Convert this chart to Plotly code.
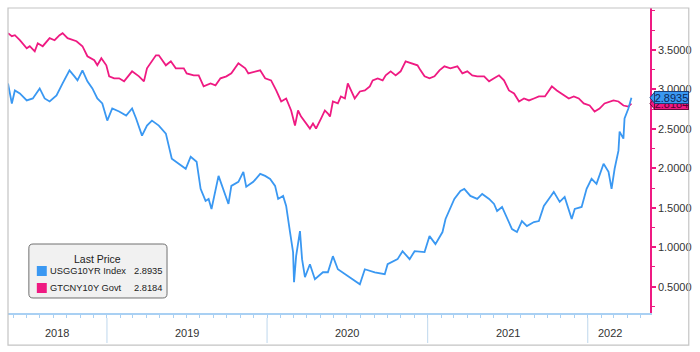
import numpy as np
import pandas as pd
import plotly.graph_objects as go

# ---------------- data ----------------
# decimal-year time stamps and yields (%)
cn_year = [2018.382, 2018.406, 2018.425, 2018.456, 2018.499, 2018.518, 2018.549, 2018.568, 2018.599, 2018.642,
           2018.673, 2018.704, 2018.723, 2018.754, 2018.810, 2018.847, 2018.878, 2018.921, 2018.940, 2018.965,
           2018.996, 2019.014, 2019.045, 2019.076, 2019.107, 2019.138, 2019.157, 2019.200, 2019.231, 2019.250,
           2019.306, 2019.324, 2019.368, 2019.399, 2019.430, 2019.480, 2019.498, 2019.542, 2019.573, 2019.604,
           2019.647, 2019.678, 2019.709, 2019.746, 2019.777, 2019.821, 2019.864, 2019.883, 2019.926, 2019.957,
           2019.988, 2020.025, 2020.057, 2020.088, 2020.119, 2020.150, 2020.174, 2020.193, 2020.212, 2020.243,
           2020.267, 2020.286, 2020.305, 2020.336, 2020.360, 2020.379, 2020.392, 2020.410, 2020.441, 2020.460,
           2020.485, 2020.503, 2020.522, 2020.546, 2020.578, 2020.609, 2020.640, 2020.658, 2020.689, 2020.720,
           2020.739, 2020.770, 2020.801, 2020.832, 2020.863, 2020.894, 2020.937, 2020.956, 2020.981, 2021.012,
           2021.043, 2021.074, 2021.105, 2021.142, 2021.186, 2021.217, 2021.248, 2021.279, 2021.310, 2021.353,
           2021.384, 2021.415, 2021.446, 2021.477, 2021.508, 2021.540, 2021.571, 2021.602, 2021.633, 2021.664,
           2021.695, 2021.733, 2021.776, 2021.807, 2021.851, 2021.882, 2021.913, 2021.944, 2021.975, 2022.012,
           2022.043, 2022.074, 2022.105, 2022.136, 2022.161, 2022.192, 2022.223, 2022.254, 2022.273]
cn_val = [3.711, 3.673, 3.686, 3.622, 3.520, 3.546, 3.482, 3.584, 3.546, 3.648,
          3.622, 3.686, 3.711, 3.648, 3.609, 3.546, 3.419, 3.368, 3.304, 3.393,
          3.304, 3.164, 3.139, 3.139, 3.101, 3.177, 3.228, 3.164, 3.101, 3.266,
          3.431, 3.431, 3.304, 3.355, 3.266, 3.266, 3.202, 3.177, 3.177, 3.037,
          3.075, 3.050, 3.139, 3.164, 3.202, 3.330, 3.266, 3.202, 3.228, 3.240,
          3.139, 3.113, 2.986, 2.846, 2.884, 2.732, 2.541, 2.732, 2.655, 2.566,
          2.503, 2.566, 2.503, 2.630, 2.732, 2.693, 2.655, 2.846, 2.821, 2.910,
          2.884, 3.075, 2.986, 2.884, 2.973, 2.986, 3.037, 3.113, 3.139, 3.113,
          3.177, 3.228, 3.177, 3.228, 3.355, 3.330, 3.304, 3.240, 3.164, 3.139,
          3.164, 3.240, 3.291, 3.266, 3.291, 3.202, 3.228, 3.177, 3.164, 3.164,
          3.101, 3.139, 3.177, 3.113, 2.986, 2.948, 2.846, 2.884, 2.859, 2.884,
          2.910, 2.910, 3.037, 2.986, 2.922, 2.884, 2.910, 2.884, 2.821, 2.795,
          2.719, 2.757, 2.821, 2.846, 2.859, 2.846, 2.795, 2.782, 2.8184]

us_year = [2018.382, 2018.406, 2018.425, 2018.456, 2018.499, 2018.537, 2018.580, 2018.611, 2018.642, 2018.685,
           2018.723, 2018.766, 2018.797, 2018.816, 2018.847, 2018.878, 2018.909, 2018.940, 2018.971, 2019.002,
           2019.033, 2019.076, 2019.120, 2019.157, 2019.182, 2019.219, 2019.250, 2019.281, 2019.324, 2019.368,
           2019.405, 2019.449, 2019.492, 2019.523, 2019.560, 2019.585, 2019.616, 2019.635, 2019.653, 2019.697,
           2019.728, 2019.759, 2019.777, 2019.821, 2019.852, 2019.870, 2019.914, 2019.957, 2019.988, 2020.019,
           2020.050, 2020.069, 2020.100, 2020.119, 2020.143, 2020.162, 2020.168, 2020.181, 2020.205, 2020.218,
           2020.236, 2020.267, 2020.298, 2020.348, 2020.379, 2020.410, 2020.441, 2020.503, 2020.578, 2020.609,
           2020.671, 2020.733, 2020.751, 2020.813, 2020.844, 2020.888, 2020.919, 2020.981, 2021.012, 2021.049,
           2021.093, 2021.112, 2021.142, 2021.167, 2021.205, 2021.229, 2021.267, 2021.310, 2021.341, 2021.384,
           2021.415, 2021.434, 2021.465, 2021.496, 2021.527, 2021.558, 2021.589, 2021.620, 2021.664, 2021.695,
           2021.726, 2021.757, 2021.788, 2021.825, 2021.856, 2021.900, 2021.919, 2021.962, 2021.993, 2022.024,
           2022.055, 2022.099, 2022.130, 2022.149, 2022.168, 2022.192, 2022.199, 2022.223, 2022.230, 2022.254,
           2022.273]
us_val = [3.075, 2.821, 2.986, 2.948, 2.859, 2.884, 3.011, 2.884, 2.846, 2.922,
          3.075, 3.240, 3.164, 3.113, 3.240, 3.101, 3.011, 2.884, 2.821, 2.604,
          2.757, 2.719, 2.668, 2.757, 2.630, 2.414, 2.541, 2.604, 2.541, 2.439,
          2.121, 2.057, 1.994, 2.146, 2.083, 1.739, 1.587, 1.612, 1.485, 1.904,
          1.739, 1.548, 1.777, 1.828, 1.955, 1.765, 1.828, 1.930, 1.904, 1.866,
          1.777, 1.612, 1.650, 1.523, 1.192, 0.938, 0.556, 0.887, 1.205, 0.849,
          0.620, 0.785, 0.594, 0.683, 0.683, 0.887, 0.721, 0.632, 0.531, 0.721,
          0.683, 0.658, 0.785, 0.849, 0.950, 0.849, 0.950, 0.938, 1.141, 1.039,
          1.192, 1.358, 1.485, 1.612, 1.714, 1.739, 1.650, 1.612, 1.675, 1.612,
          1.548, 1.459, 1.510, 1.358, 1.230, 1.192, 1.332, 1.268, 1.319, 1.332,
          1.523, 1.612, 1.701, 1.574, 1.637, 1.358, 1.485, 1.510, 1.739, 1.866,
          1.803, 2.057, 1.955, 1.739, 1.994, 2.223, 2.464, 2.375, 2.630, 2.757,
          2.8935]

series_names = ["USGG10YR Index", "GTCNY10Y Govt"]
last_prices = ["2.8935", "2.8184"]
year_labels = ["2018", "2019", "2020", "2021", "2022"]
y_tickvals = [0.5, 1.0, 1.5, 2.0, 2.5, 3.0, 3.5]
x_range_years = [2018.382, 2022.389]
y_range = [0.167, 4.03]

# ---------------- styling ----------------
BLUE = "#3a98f2"
PINK = "#ef1a82"
LIGHTBLUE = "#a9d0f3"
FONT = "Liberation Sans"


def yr2dt(y):
    yi = int(np.floor(y))
    s = pd.Timestamp(f"{yi}-01-01")
    e = pd.Timestamp(f"{yi + 1}-01-01")
    return s + (e - s) * (y - yi)


cn_dates = [yr2dt(v) for v in cn_year]
us_dates = [yr2dt(v) for v in us_year]
x0 = yr2dt(x_range_years[0])
x1 = yr2dt(x_range_years[1])
last_date = max(us_dates[-1], cn_dates[-1])

fig = go.Figure()
fig.add_trace(go.Scatter(x=cn_dates, y=cn_val, mode="lines", name=series_names[1],
                         line=dict(color=PINK, width=1.8), showlegend=False))
fig.add_trace(go.Scatter(x=us_dates, y=us_val, mode="lines", name=series_names[0],
                         line=dict(color=BLUE, width=1.8), showlegend=False))

fig.update_layout(
    width=700, height=352,
    margin=dict(l=8, r=46, t=8, b=39),
    paper_bgcolor="white", plot_bgcolor="white",
    font=dict(family=FONT, size=11, color="#333333"),
    xaxis=dict(range=[x0, x1], type="date", showgrid=False, zeroline=False,
               showline=True, linecolor=LIGHTBLUE, linewidth=1.5,
               ticks="outside", tickcolor=LIGHTBLUE, ticklen=3, tickwidth=1,
               dtick="M1", tick0="2018-01-01", showticklabels=False),
    yaxis=dict(range=y_range, side="right", showgrid=False, zeroline=False,
               showline=True, linecolor=PINK, linewidth=1.5,
               ticks="outside", tickcolor=PINK, ticklen=4, tickwidth=2,
               tickvals=y_tickvals, tickformat=".4f",
               tickfont=dict(family=FONT, size=11, color="#333333"),
               minor=dict(dtick=0.25, tick0=0, ticks="outside", ticklen=3,
                          tickcolor=PINK, tickwidth=1)),
)

shapes = []
annotations = []

# outer frame
shapes.append(dict(type="rect", xref="paper", yref="paper", x0=0, x1=1.0604, y0=-0.105, y1=1.0,
                   line=dict(color="#c4c4c4", width=1.2), fillcolor="rgba(0,0,0,0)", layer="above"))

# year band: separators and labels
for lab in year_labels:
    yr = int(lab)
    ys = max(pd.Timestamp(f"{yr}-01-01"), x0)
    ye = min(pd.Timestamp(f"{yr + 1}-01-01"), last_date)
    if yr > int(year_labels[0]):
        shapes.append(dict(type="line", xref="x", yref="paper",
                           x0=pd.Timestamp(f"{yr}-01-01"), x1=pd.Timestamp(f"{yr}-01-01"),
                           y0=-0.016, y1=-0.098, line=dict(color="#c9def0", width=1.2)))
    annotations.append(dict(x=ys + (ye - ys) / 2, y=-0.067, xref="x", yref="paper",
                            text=lab, showarrow=False, xanchor="center", yanchor="middle",
                            font=dict(family=FONT, size=11, color="#333333")))

# last-price tags on the right axis (pink drawn first, blue on top)
tag_colors = [BLUE, PINK]
tag_border = ["#1d3f78", "#6a0a3a"]
tag_text = ["#0d2656", "#5a0030"]
tag_vals = [us_val[-1], cn_val[-1]]
for i in [1, 0]:
    v = tag_vals[i]
    h = 0.075
    shapes.append(dict(type="path", xref="paper", yref="y",
                       path=f"M 1.0,{v} L 1.0075,{v + h} L 1.0075,{v - h} Z",
                       fillcolor=tag_colors[i], line=dict(color=tag_border[i], width=1),
                       layer="above"))
    annotations.append(dict(x=1.0068, y=v, xref="paper", yref="y", text=last_prices[i],
                            showarrow=False, xanchor="left", yanchor="middle",
                            width=33, height=11, borderpad=0, borderwidth=1,
                            bgcolor=tag_colors[i], bordercolor=tag_border[i],
                            font=dict(family=FONT, size=11, color=tag_text[i])))

# legend box
lx0, lx1, ly0, ly1 = 0.0325, 0.2477, 0.0492, 0.2262
rx, ry = 0.0065, 0.0135
legend_path = (f"M {lx0 + rx},{ly1} L {lx1 - rx},{ly1} Q {lx1},{ly1} {lx1},{ly1 - ry} "
               f"L {lx1},{ly0 + ry} Q {lx1},{ly0} {lx1 - rx},{ly0} L {lx0 + rx},{ly0} "
               f"Q {lx0},{ly0} {lx0},{ly0 + ry} L {lx0},{ly1 - ry} Q {lx0},{ly1} {lx0 + rx},{ly1} Z")
shapes.append(dict(type="path", xref="paper", yref="paper", path=legend_path,
                   fillcolor="#f1f1f1", line=dict(color="#707070", width=1), layer="above"))
annotations.append(dict(x=0.1393, y=0.177, xref="paper", yref="paper", text="Last Price",
                        showarrow=False, xanchor="center", yanchor="middle",
                        font=dict(family=FONT, size=10.5, color="#222222")))
row_y = [0.1377, 0.082]
for i in range(2):
    shapes.append(dict(type="rect", xref="paper", yref="paper",
                       x0=0.0449, x1=0.0604, y0=row_y[i] - 0.0164, y1=row_y[i] + 0.0164,
                       fillcolor=tag_colors[i], line=dict(width=0), layer="above"))
    annotations.append(dict(x=0.0627, y=row_y[i], xref="paper", yref="paper", text=series_names[i],
                            showarrow=False, xanchor="left", yanchor="middle",
                            font=dict(family=FONT, size=9.3, color="#222222")))
    annotations.append(dict(x=0.2435, y=row_y[i], xref="paper", yref="paper", text=last_prices[i],
                            showarrow=False, xanchor="right", yanchor="middle",
                            font=dict(family=FONT, size=9.3, color="#222222")))

fig.update_layout(shapes=shapes, annotations=annotations)
fig.write_html("out.html")
